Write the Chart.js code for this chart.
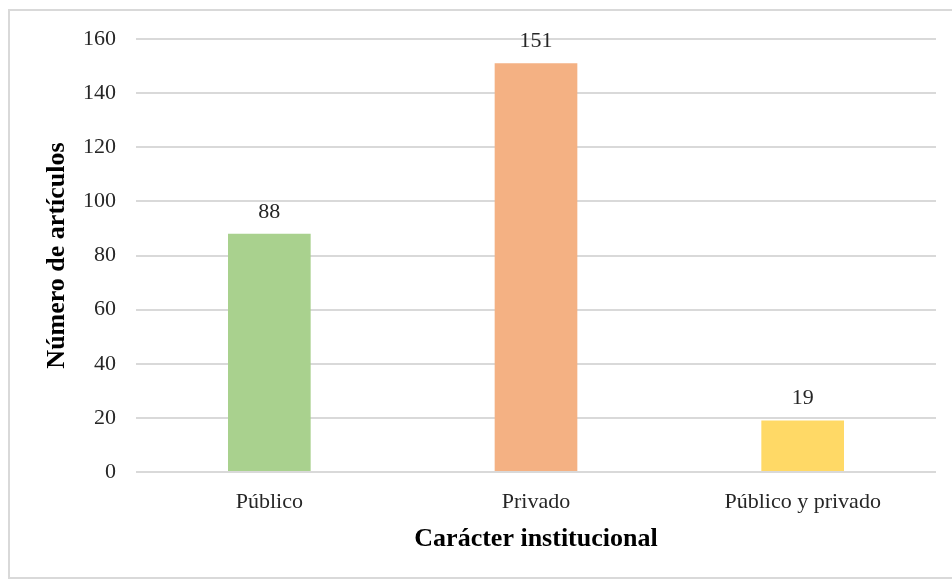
<!DOCTYPE html>
<html>
<head>
<meta charset="utf-8">
<script src="https://cdn.jsdelivr.net/npm/chart.js@4"></script>
<style>
  body { margin: 0; background: #fff; }
  #marco { position: absolute; left: 8px; top: 9px; width: 960px; height: 566px; border: 2px solid #d9d9d9; }
  #grafico { position: absolute; left: 0; top: 0; }
</style>
</head>
<body>
<div id="marco"></div>
<canvas id="grafico" width="952" height="580"></canvas>
<script>
// Datos del gráfico
const categorias = ['Público', 'Privado', 'Público y privado'];
const articulos = [88, 151, 19];
const colores = ['#A9D18E', '#F4B183', '#FFD966'];
const marcasY = [0, 20, 40, 60, 80, 100, 120, 140, 160];

const fuente = 'Liberation Serif';

// Etiquetas encima de cada barra
const etiquetasBarras = {
    id: 'etiquetasBarras',
    afterDatasetsDraw(chart) {
        const ctx = chart.ctx;
        const meta = chart.getDatasetMeta(0);
        ctx.save();
        ctx.font = '22px "' + fuente + '"';
        ctx.fillStyle = '#262626';
        ctx.textAlign = 'center';
        ctx.textBaseline = 'middle';
        meta.data.forEach(function (barra, i) {
            ctx.fillText(String(articulos[i]), barra.x, barra.y - 22);
        });
        ctx.restore();
    }
};

const ctx = document.getElementById('grafico');

new Chart(ctx, {
    type: 'bar',
    data: {
        labels: categorias,
        datasets: [{
            label: 'Número de artículos',
            data: articulos,
            backgroundColor: colores,
            borderWidth: 0,
            categoryPercentage: 1,
            barPercentage: 0.31
        }]
    },
    options: {
        responsive: false,
        animation: false,
        layout: { padding: { left: 0, right: 16, top: 39, bottom: 17 } },
        plugins: {
            legend: { display: false },
            tooltip: { enabled: false }
        },
        scales: {
            x: {
                afterFit(scale) {
                    scale.height = 91;
                },
                grid: { display: false, drawTicks: false },
                border: { display: false },
                ticks: { color: '#262626', padding: 17, font: { family: fuente, size: 22 } },
                title: {
                    display: true,
                    text: 'Carácter institucional',
                    color: '#000',
                    font: { family: fuente, size: 26, weight: 'bold' },
                    padding: { top: 0, bottom: 8 }
                }
            },
            y: {
                min: 0,
                max: 160,
                afterBuildTicks(scale) {
                    scale.ticks = marcasY.map(v => ({ value: v }));
                },
                afterFit(scale) {
                    scale.width = 136;
                },
                grid: { color: '#d9d9d9', lineWidth: 2, drawTicks: false },
                border: { display: false },
                ticks: { color: '#262626', padding: 20, font: { family: fuente, size: 22 } },
                title: {
                    display: true,
                    text: 'Número de artículos',
                    color: '#000',
                    font: { family: fuente, size: 26, weight: 'bold' },
                    padding: { top: 42, bottom: 0 }
                }
            }
        }
    },
    plugins: [etiquetasBarras]
});
</script>
</body>
</html>
